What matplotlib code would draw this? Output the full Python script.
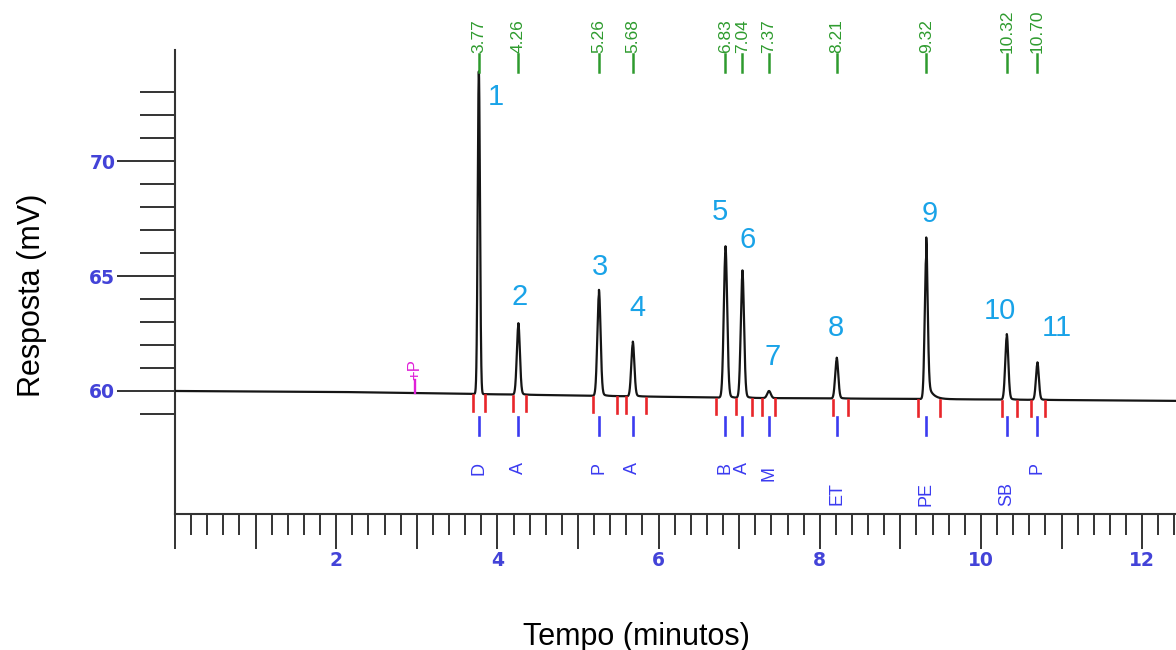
import numpy as np
import matplotlib
matplotlib.use("Agg")
import matplotlib.pyplot as plt
from matplotlib.ticker import MultipleLocator, FixedLocator, FuncFormatter
from matplotlib.transforms import blended_transform_factory

# ---------------- data ----------------
peak_numbers = ["1", "2", "3", "4", "5", "6", "7", "8", "9", "10", "11"]
retention_times = [3.77, 4.26, 5.26, 5.68, 6.83, 7.04, 7.37, 8.21, 9.32, 10.32, 10.70]
retention_labels = ["3.77", "4.26", "5.26", "5.68", "6.83", "7.04", "7.37", "8.21", "9.32", "10.32", "10.70"]
apex_mv = [73.9, 62.95, 64.4, 62.15, 66.3, 65.25, 60.0, 61.45, 66.7, 62.48, 61.25]
peak_sigma = [0.014, 0.019, 0.02, 0.019, 0.021, 0.02, 0.022, 0.019, 0.018, 0.019, 0.018]
tail_fraction = [0.0, 0.04, 0.05, 0.05, 0.04, 0.04, 0.0, 0.05, 0.13, 0.05, 0.05]
tail_tau = [0.03, 0.04, 0.04, 0.04, 0.04, 0.04, 0.04, 0.04, 0.06, 0.04, 0.04]
compound_codes = ["D", "A", "P", "A", "B", "A", "M", "ET", "PE", "SB", "P"]
code_levels = [56.65, 56.65, 56.65, 56.65, 56.65, 56.65, 56.43, 55.52, 55.52, 55.52, 56.65]
label_x = [3.98, 4.28, 5.27, 5.74, 6.76, 7.11, 7.41, 8.20, 9.37, 10.24, 10.94]
label_y = [72.78, 64.09, 65.39, 63.60, 67.78, 66.57, 61.48, 62.74, 67.70, 63.48, 62.74]
integration_marks = [3.70, 3.85, 4.19, 4.35, 5.19, 5.48, 5.60, 5.84, 6.71, 6.96, 7.16,
                     7.28, 7.45, 8.16, 8.35, 9.22, 9.49, 10.26, 10.45, 10.62, 10.79]
baseline_t = [0.0, 2.0, 3.7, 6.0, 7.0, 9.3, 12.42]
baseline_mv = [60.0, 59.96, 59.87, 59.75, 59.70, 59.65, 59.57]
inject_time = 2.98
x_tick_labels = ["2", "4", "6", "8", "10", "12"]
y_tick_labels = ["60", "65", "70"]

# ---------------- signal ----------------
t = np.linspace(0, 12.42, 12000)
base = np.interp(t, baseline_t, baseline_mv)
signal = base.copy()
for t0, ap, s, a, tau in zip(retention_times, apex_mv, peak_sigma, tail_fraction, tail_tau):
    h = ap - np.interp(t0, baseline_t, baseline_mv)
    g = np.exp(-0.5 * ((t - t0) / s) ** 2)
    tail = np.where(t >= t0, np.exp(-np.clip(t - t0, 0, None) / tau), 0.0)
    signal += h * ((1 - a) * g + a * tail)

# ---------------- figure ----------------
fig = plt.figure(figsize=(11.76, 6.5), dpi=100)
ax = fig.add_axes([175 / 1176, 1 - 514 / 650, (1176 - 175) / 1176, (514 - 50) / 650])
ax.set_xlim(0, 12.42)
ax.set_ylim(54.65, 74.83)

ax.plot(t, signal, color="#151515", lw=1.6, zorder=3)

for side in ["top", "right"]:
    ax.spines[side].set_visible(False)
for side in ["left", "bottom"]:
    ax.spines[side].set_color("#333333")
    ax.spines[side].set_linewidth(1.5)

tick_color = "#4343D8"
ax.xaxis.set_major_locator(MultipleLocator(1))
ax.xaxis.set_minor_locator(MultipleLocator(0.2))
ax.xaxis.set_major_formatter(FuncFormatter(
    lambda v, p: x_tick_labels[int(round(v)) // 2 - 1] if (round(v) % 2 == 0 and round(v) > 0) else ""))
ax.yaxis.set_major_locator(FixedLocator([60, 65, 70]))
ax.yaxis.set_minor_locator(FixedLocator([59, 61, 62, 63, 64, 66, 67, 68, 69, 71, 72, 73]))
ax.yaxis.set_major_formatter(FuncFormatter(
    lambda v, p: y_tick_labels[[60, 65, 70].index(int(round(v)))] if int(round(v)) in (60, 65, 70) else ""))

ax.tick_params(axis="x", which="major", direction="out", length=25, width=1.4, color="#333333",
               pad=2, labelsize=13.5, labelcolor=tick_color)
ax.tick_params(axis="x", which="minor", direction="out", length=15, width=1.4, color="#333333")
ax.tick_params(axis="y", which="major", direction="out", length=42, width=1.4, color="#333333",
               pad=1, labelsize=13.5, labelcolor=tick_color)
ax.tick_params(axis="y", which="minor", direction="out", length=25, width=1.4, color="#333333")
for lab in ax.get_xticklabels() + ax.get_yticklabels():
    lab.set_fontweight("bold")

# retention-time annotations (green, above the axes)
trans = blended_transform_factory(ax.transData, ax.transAxes)
green = "#2E9B2E"
for rt, lab in zip(retention_times, retention_labels):
    ax.plot([rt, rt], [0.9526, 0.992], transform=trans, color=green, lw=1.8, clip_on=False, zorder=4)
    ax.text(rt, 0.993, lab, transform=trans, rotation=90, ha="center", va="bottom",
            fontsize=12.5, color=green, family="Liberation Sans", clip_on=False)

# integration boundary marks (red)
for m in integration_marks:
    b = np.interp(m, baseline_t, baseline_mv)
    ax.plot([m, m], [b - 0.05, b - 0.72], color="#E8262A", lw=1.9, zorder=4)

# peak-apex marks (blue) and compound codes
blue = "#3B3BF0"
for rt, code, lev in zip(retention_times, compound_codes, code_levels):
    ax.plot([rt, rt], [58.85, 58.1], color=blue, lw=1.9, zorder=4)
    ax.text(rt, lev, code, rotation=90, ha="center", va="center", fontsize=13,
            color=blue, family="Liberation Sans")

# injection marker (magenta)
mag = "#E020D8"
b0 = np.interp(inject_time, baseline_t, baseline_mv)
ax.plot([inject_time, inject_time], [b0, b0 + 0.55], color=mag, lw=1.7, zorder=4)
ax.text(inject_time, b0 + 0.55, "+P", rotation=90, ha="center", va="bottom", fontsize=12,
        color=mag, family="Liberation Sans")

# peak numbers
for n, x, y in zip(peak_numbers, label_x, label_y):
    ax.text(x, y, n, ha="center", va="center", fontsize=21, color="#19A3E8",
            family="Liberation Sans")

# axis titles
fig.text(32 / 1176, 1 - 295 / 650, "Resposta (mV)", rotation=90, ha="center", va="center",
         fontsize=22, color="black", family="Liberation Sans")
fig.text(636 / 1176, 1 - 637 / 650, "Tempo (minutos)", ha="center", va="center",
         fontsize=22, color="black", family="Liberation Sans")

fig.savefig("out.png", dpi=100)
